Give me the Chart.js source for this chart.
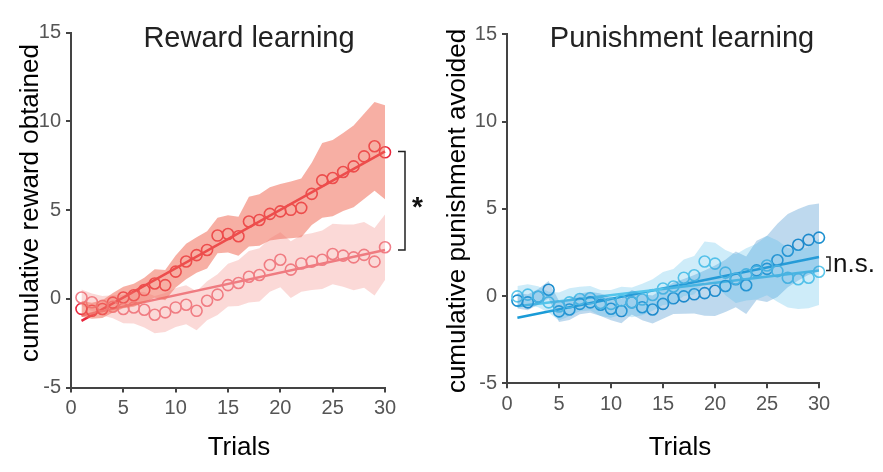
<!DOCTYPE html>
<html>
<head>
<meta charset="utf-8">
<script src="https://cdn.jsdelivr.net/npm/chart.js@4.4.1/dist/chart.umd.min.js"></script>
<style>
  html, body { margin: 0; padding: 0; background: #fff; }
  .panel { position: absolute; top: 0; }
  #rewardPanel { left: 0; }
  #punishPanel { left: 440px; }
</style>
</head>
<body>
<div class="panel" id="rewardPanel"><canvas id="rewardChart" width="440" height="472"></canvas></div>
<div class="panel" id="punishPanel"><canvas id="punishChart" width="443" height="472"></canvas></div>
<script>
const trials = [1, 2, 3, 4, 5, 6, 7, 8, 9, 10, 11, 12, 13, 14, 15,
                16, 17, 18, 19, 20, 21, 22, 23, 24, 25, 26, 27, 28, 29, 30];
const yTicks = [-5, 0, 5, 10, 15];
const xTicks = [0, 5, 10, 15, 20, 25, 30];

// reward learning: group means, s.e.m. and fitted line ends (trial 1, trial 30)
const rewardDark = [-0.57, -0.68, -0.58, -0.22, 0.07, 0.2, 0.49, 0.86, 0.77, 1.53,
                    2.1, 2.46, 2.75, 3.56, 3.65, 3.52, 4.35, 4.44, 4.78, 4.92,
                    5.01, 5.12, 5.91, 6.67, 6.8, 7.14, 7.46, 8.02, 8.59, 8.25];
const rewardDarkSem = [0.45, 0.45, 0.5, 0.55, 0.6, 0.65, 0.7, 0.8, 0.85, 0.9,
                       1.0, 1.0, 1.05, 1.0, 1.05, 1.1, 1.4, 1.45, 1.5, 1.55,
                       1.6, 1.65, 1.75, 2.1, 2.15, 2.2, 2.3, 2.4, 2.5, 2.65];
const rewardDarkFit = [-1.25, 8.3];

const rewardLight = [0.07, -0.2, -0.4, -0.45, -0.58, -0.49, -0.62, -0.9, -0.77, -0.49,
                     -0.34, -0.68, -0.11, 0.23, 0.77, 0.89, 1.24, 1.34, 1.9, 2.2,
                     1.64, 1.99, 2.09, 2.2, 2.52, 2.43, 2.33, 2.47, 2.09, 2.9];
const rewardLightSem = [0.45, 0.5, 0.55, 0.65, 0.8, 0.9, 1.0, 1.05, 1.1, 1.1,
                        1.1, 1.1, 1.1, 1.15, 1.2, 1.3, 1.45, 1.5, 1.5, 1.55,
                        1.6, 1.6, 1.6, 1.65, 1.7, 1.75, 1.85, 1.85, 1.9, 1.85];
const rewardLightFit = [-0.95, 2.75];

// punishment learning
const punishDark = [-0.26, -0.36, -0.04, 0.36, -0.88, -0.77, -0.45, -0.36, -0.5, -0.73,
                    -0.86, -0.36, -0.64, -0.77, -0.45, -0.13, -0.02, 0.1, 0.17, 0.3,
                    0.58, 0.96, 0.62, 1.47, 1.56, 2.05, 2.6, 2.94, 3.22, 3.35];
const punishDarkSem = [0.45, 0.45, 0.45, 0.5, 0.6, 0.6, 0.6, 0.6, 0.65, 0.65,
                       0.7, 0.7, 0.75, 0.8, 0.85, 0.9, 1.0, 1.1, 1.3, 1.45,
                       1.5, 1.6, 1.65, 1.7, 1.9, 2.1, 2.1, 2.05, 2.0, 1.95];
const punishDarkFit = [-1.24, 2.24];

const punishLight = [-0.02, 0.08, -0.04, -0.36, -0.6, -0.36, -0.17, -0.13, -0.4, -0.45,
                     -0.26, -0.36, -0.2, 0.06, 0.43, 0.55, 1.05, 1.19, 1.98, 1.86,
                     1.34, 1.0, 1.24, 1.4, 1.75, 1.43, 1.05, 0.96, 1.05, 1.39];
const punishLightSem = [0.6, 0.6, 0.6, 0.6, 0.8, 0.8, 0.7, 0.7, 0.75, 0.8,
                        0.8, 0.85, 0.9, 0.9, 0.95, 1.0, 1.05, 1.1, 1.15, 1.2,
                        1.3, 1.4, 1.5, 1.6, 1.7, 1.75, 1.7, 1.7, 1.75, 1.9];
const punishLightFit = [-0.58, 1.47];

const FONT = '"Liberation Sans", Arial, sans-serif';

function pts(means) {
    return means.map((m, i) => ({ x: trials[i], y: m }));
}
function band(means, sems, sign) {
    return means.map((m, i) => ({ x: trials[i], y: m + sign * sems[i] }));
}
function fitLine(ends) {
    return [{ x: trials[0], y: ends[0] }, { x: trials[trials.length - 1], y: ends[1] }];
}

function makeDatasets(s, c) {
    const edge = { borderColor: 'transparent', borderWidth: 0, pointRadius: 0 };
    const marker = { showLine: false, pointRadius: 5.5, pointBorderWidth: 1.6, pointBackgroundColor: 'transparent' };
    return [
        { ...edge, data: band(s.light, s.lightSem, 1), fill: '+1', backgroundColor: c.lightBand },
        { ...edge, data: band(s.light, s.lightSem, -1), fill: false },
        { ...edge, data: band(s.dark, s.darkSem, 1), fill: '+1', backgroundColor: c.darkBand },
        { ...edge, data: band(s.dark, s.darkSem, -1), fill: false },
        { ...marker, data: pts(s.light), pointBorderColor: c.lightPoint },
        { ...marker, data: pts(s.dark), pointBorderColor: c.darkPoint },
        { data: fitLine(s.lightFit), borderColor: c.lightLine, borderWidth: 2.5, pointRadius: 0, fill: false },
        { data: fitLine(s.darkFit), borderColor: c.darkLine, borderWidth: 2.5, pointRadius: 0, fill: false }
    ];
}

// titles, axis names and the significance bracket
const panelText = {
    id: 'panelText',
    afterDraw(chart, args, o) {
        const ctx = chart.ctx;
        const y = chart.scales.y;
        ctx.save();
        ctx.textAlign = 'center';
        ctx.textBaseline = 'alphabetic';

        ctx.fillStyle = '#222';
        ctx.font = '29px ' + FONT;
        ctx.fillText(o.title, o.titleX, 47);

        ctx.fillStyle = '#000';
        ctx.font = '26px ' + FONT;
        ctx.fillText('Trials', o.trialsX, 455);

        ctx.save();
        ctx.translate(o.yTitleX, o.yTitleY);
        ctx.rotate(-Math.PI / 2);
        ctx.fillText(o.yTitle, 0, 0);
        ctx.restore();

        const top = y.getPixelForValue(o.bracket.hi);
        const bot = y.getPixelForValue(o.bracket.lo);
        ctx.strokeStyle = '#222';
        ctx.lineWidth = 1.5;
        ctx.beginPath();
        ctx.moveTo(o.bracket.x0, top);
        ctx.lineTo(o.bracket.x1, top);
        ctx.lineTo(o.bracket.x1, bot);
        ctx.lineTo(o.bracket.x0, bot);
        ctx.stroke();

        ctx.fillStyle = '#111';
        ctx.textAlign = 'left';
        ctx.font = o.bracket.font;
        ctx.fillText(o.bracket.label, o.bracket.x1 + o.bracket.gap, (top + bot) / 2 + o.bracket.shift);
        ctx.restore();
    }
};

function makeChart(id, s, c, geo, text) {
    const axisColor = '#444';
    new Chart(document.getElementById(id), {
        type: 'line',
        data: { datasets: makeDatasets(s, c) },
        plugins: [panelText],
        options: {
            responsive: false,
            animation: false,
            clip: false,
            datasets: { line: { clip: false, tension: 0 } },
            layout: { padding: { top: geo.top, right: geo.right, bottom: 0, left: 0 } },
            plugins: {
                legend: { display: false },
                tooltip: { enabled: false },
                panelText: text
            },
            scales: {
                x: {
                    type: 'linear',
                    min: 0,
                    max: 30,
                    afterBuildTicks: axis => { axis.ticks = xTicks.map(v => ({ value: v })); },
                    afterFit: axis => { axis.height = geo.xHeight; },
                    border: { color: axisColor, width: 2 },
                    grid: { drawOnChartArea: false, tickLength: 5, color: axisColor, lineWidth: 2 },
                    ticks: { color: '#555', padding: 4, font: { size: 20, family: FONT } }
                },
                y: {
                    min: -5,
                    max: 15,
                    afterBuildTicks: axis => { axis.ticks = yTicks.map(v => ({ value: v })); },
                    afterFit: axis => { axis.width = geo.yWidth; },
                    border: { color: axisColor, width: 2 },
                    grid: { drawOnChartArea: false, tickLength: 5, color: axisColor, lineWidth: 2 },
                    ticks: { color: '#555', padding: 5, font: { size: 20, family: FONT } }
                }
            }
        }
    });
}

makeChart('rewardChart',
    { dark: rewardDark, darkSem: rewardDarkSem, darkFit: rewardDarkFit,
      light: rewardLight, lightSem: rewardLightSem, lightFit: rewardLightFit },
    { darkPoint: '#e8273d', darkLine: '#e8273d', lightPoint: '#f07f8a', lightLine: '#ef7d87',
      darkBand: 'rgba(240,110,90,0.55)', lightBand: 'rgba(240,120,110,0.28)' },
    { top: 32.5, right: 55, xHeight: 84.5, yWidth: 71 },
    { title: 'Reward learning', titleX: 249, trialsX: 239,
      yTitle: 'cumulative reward obtained', yTitleX: 38, yTitleY: 203,
      bracket: { hi: rewardDarkFit[1], lo: rewardLightFit[1], x0: 398, x1: 405, gap: 7, shift: 15,
                 label: '*', font: 'bold 28px ' + FONT } });

makeChart('punishChart',
    { dark: punishDark, darkSem: punishDarkSem, darkFit: punishDarkFit,
      light: punishLight, lightSem: punishLightSem, lightFit: punishLightFit },
    { darkPoint: '#1b8fcf', darkLine: '#1a9bd7', lightPoint: '#5cc6ea', lightLine: '#5ccbec',
      darkBand: 'rgba(40,130,200,0.3)', lightBand: 'rgba(60,180,230,0.25)' },
    { top: 34.3, right: 64, xHeight: 88.7, yWidth: 67 },
    { title: 'Punishment learning', titleX: 242, trialsX: 240,
      yTitle: 'cumulative punishment avoided', yTitleX: 25, yTitleY: 211,
      bracket: { hi: punishDarkFit[1], lo: punishLightFit[1], x0: 386, x1: 390, gap: 3, shift: 8,
                 label: 'n.s.', font: '26px ' + FONT } });
</script>
</body>
</html>
